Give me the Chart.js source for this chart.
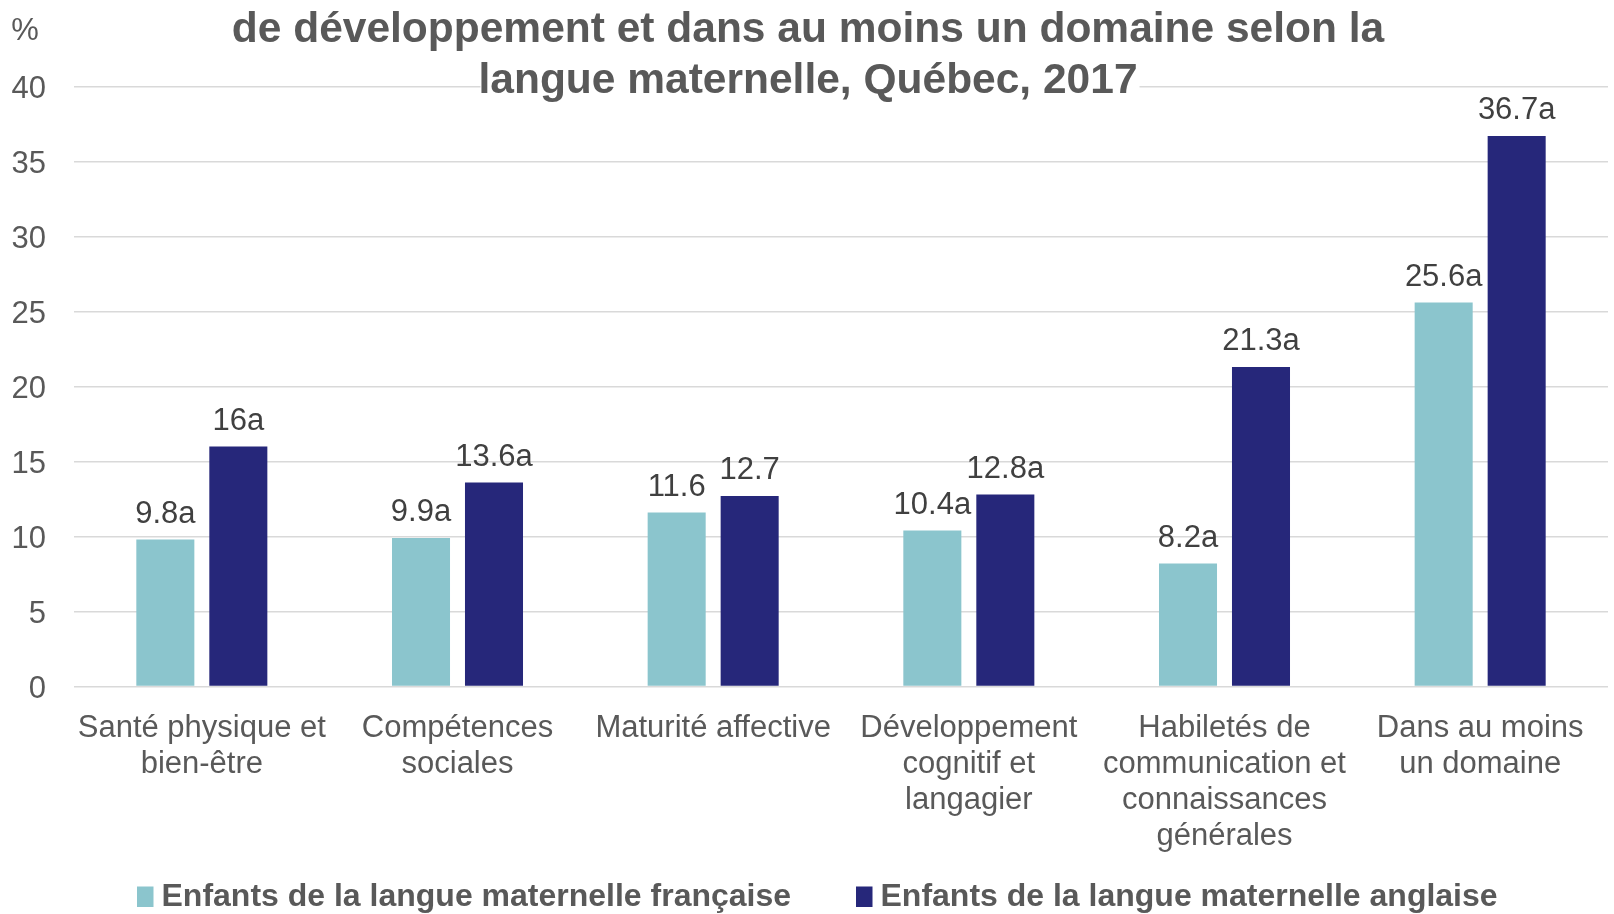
<!DOCTYPE html>
<html lang="fr">
<head>
<meta charset="utf-8">
<script src="https://cdn.jsdelivr.net/npm/chart.js@4.4.0/dist/chart.umd.min.js"></script>
<style>
  html, body { margin: 0; padding: 0; background: #fff; }
  #wrap { width: 1614px; height: 914px; }
</style>
</head>
<body>
<div id="wrap"><canvas id="barChart" width="1614" height="914"></canvas></div>
<script>
// Données du graphique
var categories = [
    ['Santé physique et', 'bien-être'],
    ['Compétences', 'sociales'],
    ['Maturité affective'],
    ['Développement', 'cognitif et', 'langagier'],
    ['Habiletés de', 'communication et', 'connaissances', 'générales'],
    ['Dans au moins', 'un domaine']
];
var seriesNames = ['Enfants de la langue maternelle française', 'Enfants de la langue maternelle anglaise'];
var valeursFr = [9.8, 9.9, 11.6, 10.4, 8.2, 25.6];
var valeursAn = [16, 13.6, 12.7, 12.8, 21.3, 36.7];
var etiquettesFr = ['9.8a', '9.9a', '11.6', '10.4a', '8.2a', '25.6a'];
var etiquettesAn = ['16a', '13.6a', '12.7', '12.8a', '21.3a', '36.7a'];
var titreLignes = ['de développement et dans au moins un domaine selon la', 'langue maternelle, Québec, 2017'];
var yTicks = [0, 5, 10, 15, 20, 25, 30, 35, 40];

var couleurs = ['#8bc5cd', '#26277a'];
var police = '"Liberation Sans", Arial, sans-serif';

// Étiquettes de données au-dessus des barres
var etiquettesPlugin = {
    id: 'etiquettes',
    afterDatasetsDraw: function (chart) {
        var ctx = chart.ctx;
        var labels = [etiquettesFr, etiquettesAn];
        ctx.save();
        ctx.font = '31px ' + police;
        ctx.fillStyle = '#404040';
        ctx.textAlign = 'center';
        ctx.textBaseline = 'middle';
        chart.data.datasets.forEach(function (ds, d) {
            chart.getDatasetMeta(d).data.forEach(function (bar, i) {
                ctx.fillText(labels[d][i], bar.x, bar.y - 25.5);
            });
        });
        ctx.restore();
    }
};

// Titre, unité et légende
var decorPlugin = {
    id: 'decor',
    afterDraw: function (chart) {
        var ctx = chart.ctx;
        ctx.save();
        ctx.font = 'bold 42.5px ' + police;
        ctx.textAlign = 'center';
        ctx.textBaseline = 'middle';
        var ys = [30.5, 81];
        titreLignes.forEach(function (t, i) {
            var w = ctx.measureText(t).width;
            ctx.fillStyle = '#ffffff';
            ctx.fillRect(810 - w / 2, ys[i] - 24, w, 48);
            ctx.fillStyle = '#595959';
            ctx.fillText(t, 808, ys[i]);
        });

        ctx.font = '31px ' + police;
        ctx.fillStyle = '#595959';
        ctx.fillText('%', 25, 31.5);

        // légende
        ctx.font = 'bold 32px ' + police;
        ctx.textAlign = 'left';
        var xs = [137, 856];
        chart.data.datasets.forEach(function (ds, d) {
            ctx.fillStyle = ds.backgroundColor;
            ctx.fillRect(xs[d], 886.5, 16.5, 20.5);
            ctx.fillStyle = '#595959';
            ctx.fillText(ds.label, xs[d] + 24.5, 897);
        });
        ctx.restore();
    }
};

var ctx = document.getElementById('barChart').getContext('2d');

var myChart = new Chart(ctx, {
    type: 'bar',
    data: {
        labels: categories,
        datasets: [{
            label: seriesNames[0],
            backgroundColor: couleurs[0],
            data: valeursFr,
            categoryPercentage: 0.571,
            barPercentage: 0.795
        }, {
            label: seriesNames[1],
            backgroundColor: couleurs[1],
            data: valeursAn,
            categoryPercentage: 0.571,
            barPercentage: 0.795
        }]
    },
    options: {
        responsive: false,
        animation: false,
        layout: {
            padding: { top: 86.5, right: 6, bottom: 0, left: 0 }
        },
        plugins: {
            legend: { display: false },
            title: { display: false },
            tooltip: { enabled: false }
        },
        scales: {
            x: {
                grid: { display: false, drawTicks: false },
                border: { display: false },
                ticks: {
                    color: '#595959',
                    font: { family: police, size: 31, lineHeight: 1.16 },
                    padding: 24,
                    maxRotation: 0,
                    autoSkip: false
                },
                afterFit: function (scale) {
                    scale.height = 227.4;
                }
            },
            y: {
                min: 0,
                max: 40,
                afterBuildTicks: function (scale) {
                    scale.ticks = yTicks.map(function (v) { return { value: v }; });
                },
                grid: { color: '#d9d9d9', lineWidth: 1.5, drawTicks: false },
                border: { display: false },
                ticks: {
                    color: '#595959',
                    font: { family: police, size: 31 },
                    padding: 28,
                    labelOffset: 2.5
                },
                afterFit: function (scale) {
                    scale.width = 74;
                }
            }
        }
    },
    plugins: [etiquettesPlugin, decorPlugin]
});
</script>
</body>
</html>
